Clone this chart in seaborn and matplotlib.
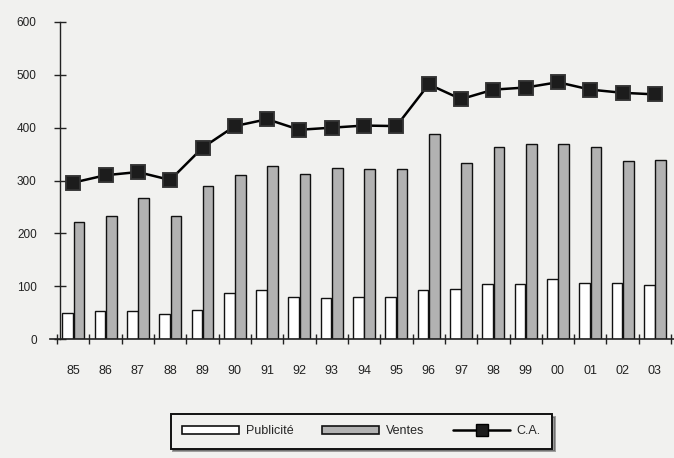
import matplotlib
matplotlib.use("Agg")
import matplotlib.pyplot as plt
import seaborn as sns
import pandas as pd
from matplotlib.patches import Patch
from matplotlib.lines import Line2D

years = ['85', '86', '87', '88', '89', '90', '91', '92', '93', '94',
         '95', '96', '97', '98', '99', '00', '01', '02', '03']
publicite = [50, 53, 53, 48, 55, 88, 93, 80, 77, 80, 80, 92, 95, 104, 104, 114, 106, 106, 102]
ventes = [222, 232, 266, 233, 290, 310, 328, 312, 323, 322, 321, 388, 334, 363, 369, 369, 363, 336, 338]
ca = [296, 310, 316, 301, 362, 403, 416, 396, 400, 404, 403, 482, 454, 472, 476, 486, 472, 466, 463]
yticks = [0, 100, 200, 300, 400, 500, 600]

sns.set_theme(style="white")
plt.rcParams['font.family'] = ['Liberation Sans', 'DejaVu Sans']

bg = '#f1f1ef'
fig = plt.figure(figsize=(6.74, 4.58), dpi=100, facecolor=bg)
ax = fig.add_axes([50 / 674, (458 - 339) / 458, 1 - 50 / 674, (339 - 22) / 458])
ax.set_facecolor('none')

df = pd.DataFrame({
    'year': years * 2,
    'value': publicite + ventes,
    'serie': ['Publicité'] * len(years) + ['Ventes'] * len(years),
})
sns.barplot(data=df, x='year', y='value', hue='serie', order=years,
            palette=['white', '#b2b2b2'], edgecolor='#111111', linewidth=1.0,
            width=0.7, gap=0.06, legend=False, ax=ax, saturation=1)

sns.pointplot(x=years, y=ca, order=years, color='black', markers='s',
              linestyles='-', errorbar=None, ax=ax,
              markersize=9.5, linewidth=1.8,
              markerfacecolor='#1c1c1c', markeredgecolor='#333333')

n = len(years)
ax.set_xlim(-0.72, n - 1 + 0.59)
ax.set_ylim(0, 600)
ax.set_xlabel('')
ax.set_ylabel('')

for s in ['top', 'right']:
    ax.spines[s].set_visible(False)
ax.spines['left'].set_position(('data', -0.4))
ax.spines['left'].set_color('#222222')
ax.spines['bottom'].set_color('#222222')
ax.spines['left'].set_linewidth(1.0)
ax.spines['bottom'].set_linewidth(1.2)

ax.set_yticks(yticks)
ax.set_yticklabels([str(v) for v in yticks])
ax.tick_params(axis='y', direction='inout', length=8, width=1, color='#222222',
               labelsize=8.5, pad=13, labelcolor='#222222', left=True)

ax.set_xticks(range(n))
ax.set_xticklabels(years)
ax.tick_params(axis='x', which='major', length=0, pad=19, labelsize=9, labelcolor='#222222')
ax.set_xticks([i + 0.5 for i in range(-1, n)], minor=True)
ax.tick_params(axis='x', which='minor', direction='inout', length=7, width=1,
               color='#222222', bottom=True)

handles = [
    Patch(facecolor='white', edgecolor='#111111', linewidth=1.2, label='Publicité'),
    Patch(facecolor='#b2b2b2', edgecolor='#111111', linewidth=1.2, label='Ventes'),
    Line2D([0], [0], color='black', linewidth=1.8, marker='s', markersize=8,
           markerfacecolor='#1c1c1c', label='C.A.'),
]
leg = fig.legend(handles=handles, loc='center', bbox_to_anchor=(0.536, 0.058),
                 ncol=3, frameon=True, fancybox=False, shadow=True,
                 handlelength=4.6, handleheight=0.7, handletextpad=0.5,
                 columnspacing=2.3, fontsize=9, borderpad=0.9)
leg.get_frame().set_edgecolor('#111111')
leg.get_frame().set_linewidth(1.4)
leg.get_frame().set_facecolor(bg)

fig.savefig('out.png', dpi=100, facecolor=bg)
